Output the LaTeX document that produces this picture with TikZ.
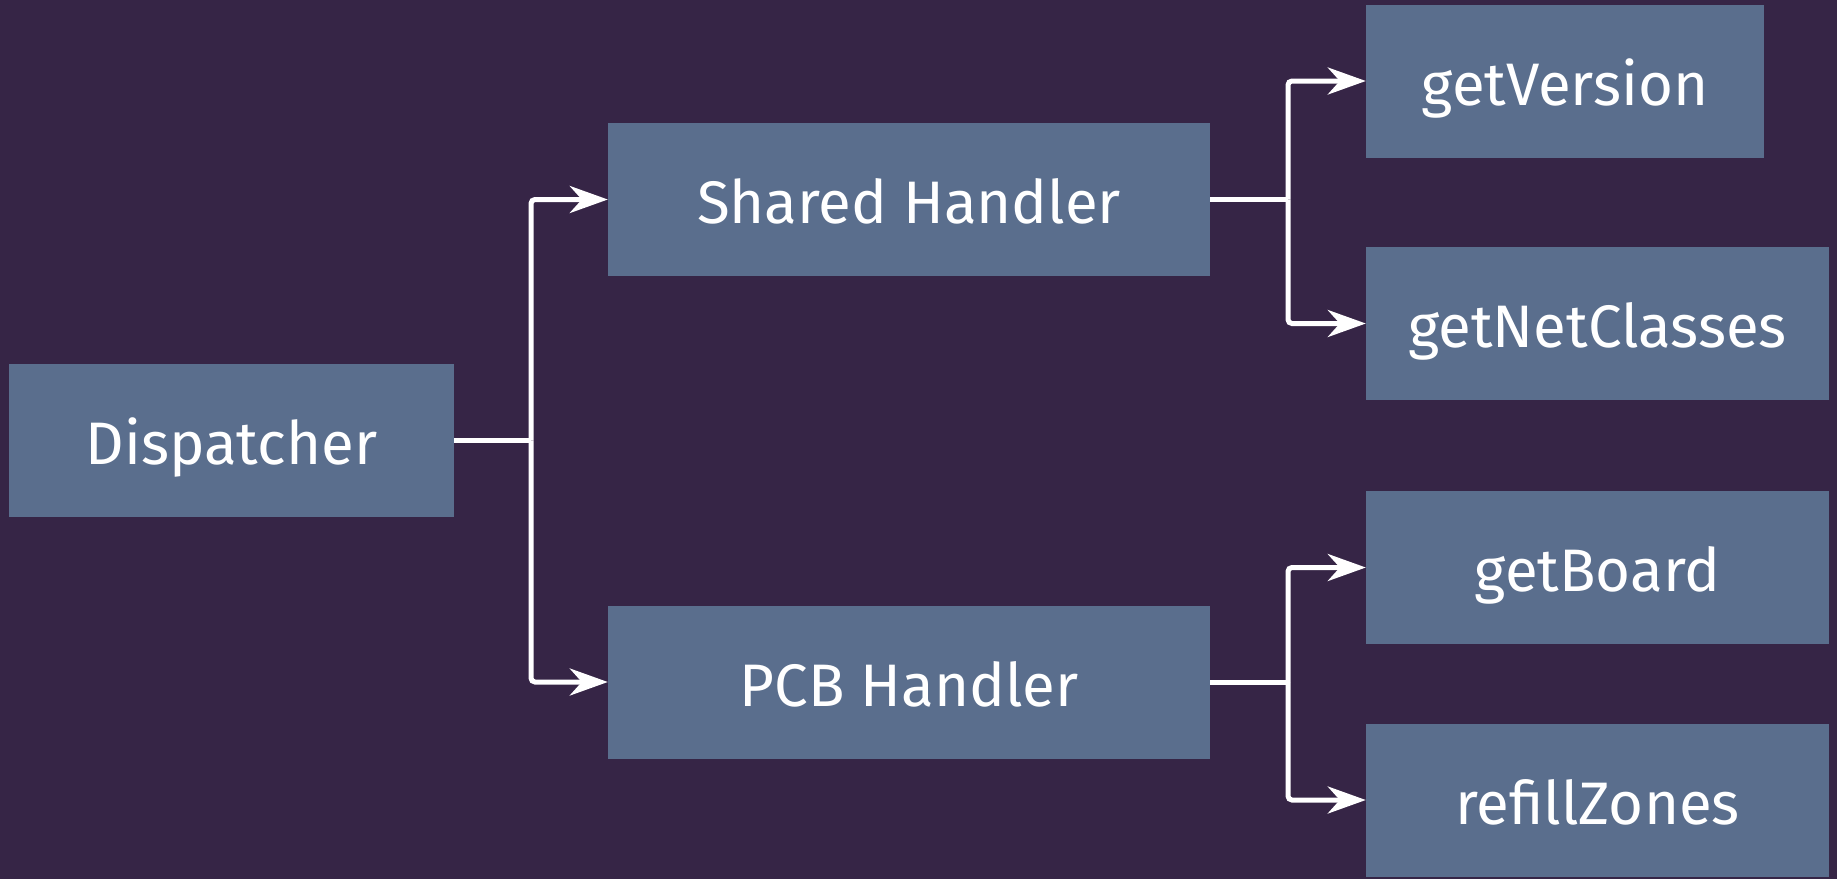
\documentclass[tikz,border=0pt]{standalone}
\usepackage{fontspec}
\setmainfont{Fira Sans}
\usetikzlibrary{arrows.meta}

\definecolor{bgpurple}{HTML}{362546}
\definecolor{boxblue}{HTML}{5A6E8D}

\tikzset{
  box/.style={rectangle, fill=boxblue, draw=none, text=white, inner sep=0pt,
              minimum height=153pt, font=\fontsize{60}{62}\selectfont,
              text height=48pt, text depth=0pt},
  link/.style={draw=white, line width=5pt, rounded corners=4pt},
  arr/.style={link, -{Stealth[length=38pt, width=27pt, inset=12pt]}}
}

\begin{document}
\begin{tikzpicture}[x=1pt, y=-1pt]
  % canvas
  \fill[bgpurple] (0,0) rectangle (1837,879);
  \useasboundingbox (0,0) rectangle (1837,879);

  % boxes
  \node[box, minimum width=445pt] (disp)   at (231.5,440.5) {Dispatcher};
  \node[box, minimum width=602pt] (shared) at (909,199.5)   {Shared Handler};
  \node[box, minimum width=602pt] (pcb)    at (909,682)     {PCB Handler};
  \node[box, minimum width=398pt] (ver)    at (1565,81)     {getVersion};
  \node[box, minimum width=463pt] (net)    at (1597.5,323.5){getNetClasses};
  \node[box, minimum width=463pt] (board)  at (1597.5,567.5){getBoard};
  \node[box, minimum width=463pt] (zones)  at (1597.5,800)  {refillZones};

  % branch points
  \coordinate (b1) at (531,440.5);
  \coordinate (b2) at (1288,199.5);
  \coordinate (b3) at (1288,682);

  % connectors
  \draw[link] (disp.east) -- (b1);
  \draw[arr] (b1) |- (shared.west);
  \draw[arr] (b1) |- (pcb.west);

  \draw[link] (shared.east) -- (b2);
  \draw[arr] (b2) |- (ver.west);
  \draw[arr] (b2) |- (net.west);

  \draw[link] (pcb.east) -- (b3);
  \draw[arr] (b3) |- (board.west);
  \draw[arr] (b3) |- (zones.west);
\end{tikzpicture}
\end{document}
